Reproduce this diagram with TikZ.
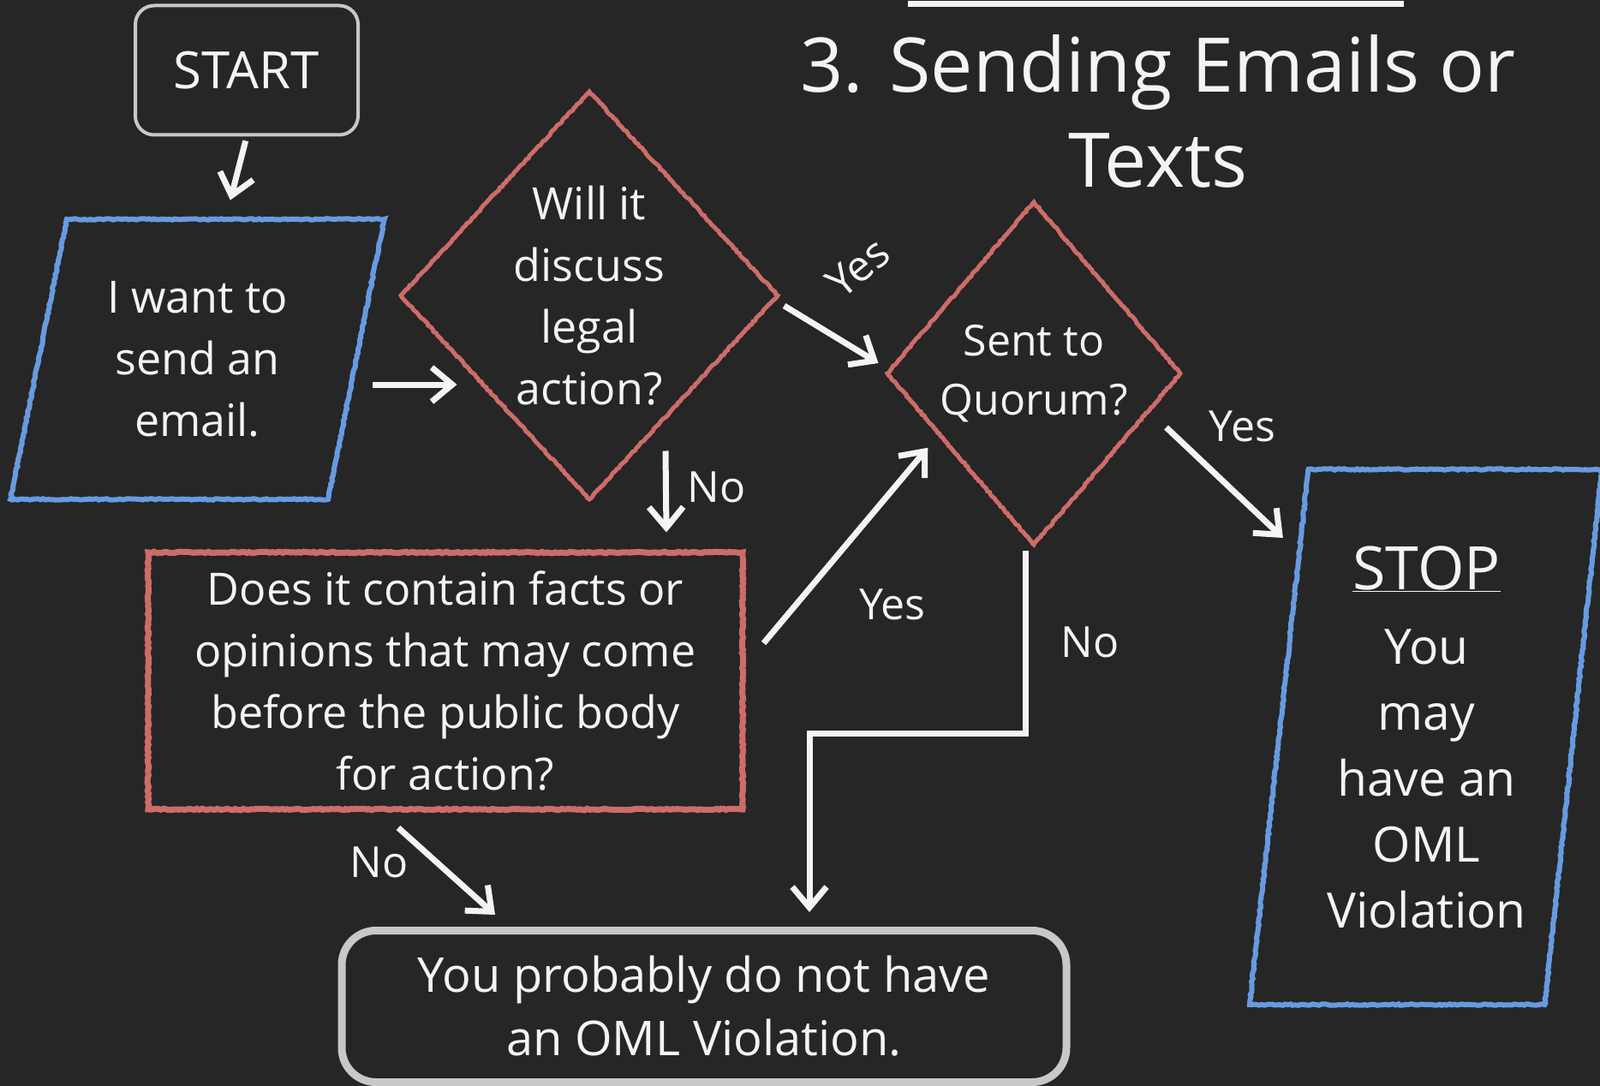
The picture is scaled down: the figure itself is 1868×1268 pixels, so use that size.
\documentclass[tikz,border=0pt]{standalone}
\usepackage{fontspec}
\setmainfont{Open Sans}
\usetikzlibrary{shapes.geometric,arrows.meta,decorations.pathmorphing}

\definecolor{board}{RGB}{38,38,38}
\definecolor{chalkred}{RGB}{205,108,104}
\definecolor{chalkblue}{RGB}{104,154,224}
\definecolor{chalkgray}{RGB}{200,200,200}
\definecolor{chalkwhite}{RGB}{244,244,244}

\begin{document}
\begin{tikzpicture}[x=1pt,y=-1pt,>={Straight Barb[length=24pt,width=40pt]},
  every node/.style={text=chalkwhite,align=center,inner sep=0pt},
  txt/.style={font=\fontsize{52}{72}\selectfont},
  lab/.style={font=\fontsize{50}{60}\selectfont},
  rough/.style={decorate,decoration={random steps,segment length=3pt,amplitude=.8pt}},
  redline/.style={draw=chalkred,line width=5pt,rough},
  blueline/.style={draw=chalkblue,line width=6pt,rough},
  ask/.style={diamond,redline,txt},
  io/.style={trapezium,trapezium stretches=true,blueline,txt},
  arr/.style={->,draw=chalkwhite,line width=7pt}]

\useasboundingbox (0,0) rectangle (1868,1268);
\fill[board] (0,0) rectangle (1868,1268);

\path
(288,82)       node[draw=chalkgray,line width=4pt,rounded corners=22pt,minimum width=260pt,minimum height=151pt,font=\fontsize{60}{70}\selectfont] (start) {START}
(230.5,419.5)  node[io,trapezium left angle=76,trapezium right angle=104,minimum width=437pt,minimum height=327pt] (want) {I want to\\send an\\email.}
(688,345)      node[ask,minimum width=442pt,minimum height=478pt] (legal) {Will it\\discuss\\legal\\action?}
(1207,436)     node[ask,minimum width=344pt,minimum height=402pt,font=\fontsize{50}{69}\selectfont] (quorum) {Sent to\\Quorum?}
(520,795)      node[rectangle,redline,line width=7pt,minimum width=694pt,minimum height=300pt,txt] (facts) {Does it contain facts or\\opinions that may come\\before the public body\\for action?}
(822,1175)     node[draw=chalkgray,line width=9pt,rounded corners=40pt,minimum width=846pt,minimum height=177pt,font=\fontsize{56}{74}\selectfont] (nothave) {You probably do not have\\an OML Violation.}
(1665.5,860.5) node[io,trapezium left angle=82.6,trapezium right angle=97.2,minimum width=413pt,minimum height=625pt,font=\fontsize{57}{77}\selectfont] (stop) {{\fontsize{70}{80}\selectfont\underline{STOP}}\\[10pt]You\\may\\have an\\OML\\Violation}
(1352,130)     node[font=\fontsize{88}{111}\selectfont] (title) {3. Sending Emails or\\Texts};

% rule over the title
\draw[chalkwhite,line width=7pt] (1060,5) -- (1639,5);

\draw[arr,shorten <=5pt,shorten >=20pt] (start.south) -- (want.top side);
\draw[arr] ([shift={(16,29.5)}]want.right side) -- ([shift={(69,104)}]legal.west);
\draw[arr] ([shift={(4,12)}]legal.east) -- ([shift={(-7,-12)}]quorum.west) node[lab,pos=.5,xshift=31pt,yshift=78pt,rotate=40]{Yes};
\draw[arr] ([shift={(-20,63)}]quorum.east) -- ([shift={(-27,83)}]stop.top left corner) node[lab,pos=.3,xshift=48pt,yshift=40pt]{Yes};
\draw[arr] ([shift={(89,-60)}]legal.south) -- ([shift={(258,-20)}]facts.north) node[lab,pos=.45,right=22pt]{No};
\draw[arr] ([shift={(21,-44)}]facts.east) -- ([shift={(-36.5,-15)}]quorum.south west) node[lab,pos=.45,xshift=64pt,yshift=-58pt]{Yes};
\draw[arr] ([shift={(-10,3)}]quorum.south) -- node[lab,right=38pt]{No} ++(0,214) -| ([shift={(123,-17)}]nothave.north);
\draw[arr] ([shift={(-55,18)}]facts.south) -- ([shift={(-244,-14)}]nothave.north) node[lab,pos=.4,left=30pt]{No};
\end{tikzpicture}
\end{document}
